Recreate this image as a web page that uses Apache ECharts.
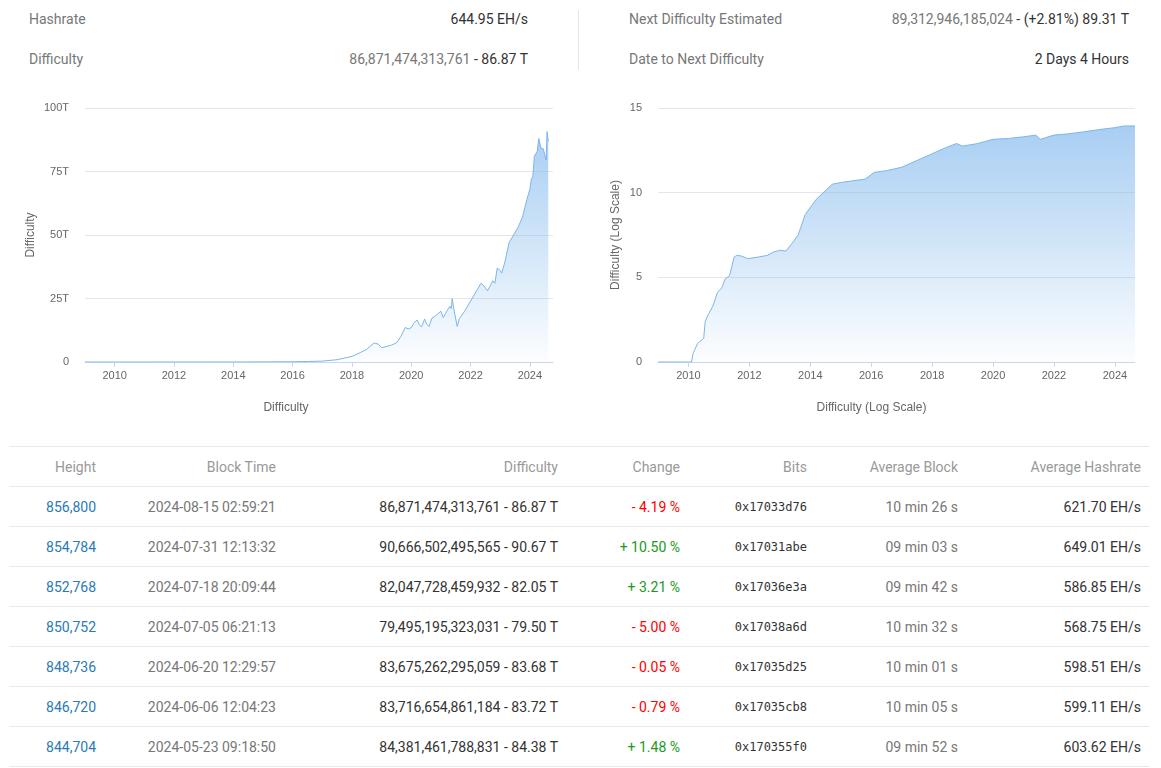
<!DOCTYPE html>
<html><head><meta charset="utf-8">
<script src="https://cdn.jsdelivr.net/npm/echarts@6/dist/echarts.min.js"></script>
<style>
body{margin:0;width:1161px;height:768px;font-family:Roboto,sans-serif;background:#fff;position:relative;overflow:hidden}
.s{position:absolute;font-size:14px;line-height:20px}
.l{color:#777}.v{color:#333;text-align:right}
#chart{position:absolute;left:0;top:2px;width:1161px;height:440px}
table{position:absolute;left:9px;top:446px;width:1140px;border-collapse:collapse;font-size:14px}
td,th{text-align:right;height:39px;border-top:1px solid #e8e8ee;padding:0;font-weight:normal}
th{color:#999}
tr:last-child td{border-bottom:1px solid #e8e8ee}
.h{color:#2a7ab8}.t{color:#777}.d{color:#333}.n{color:#f00}.p{color:#1a9a1a}
.b{font-family:"DejaVu Sans Mono",monospace;font-size:12px;color:#333}
</style></head><body>
<div class="s l" style="left:29px;top:9px">Hashrate</div>
<div class="s v" style="right:633px;top:9px">644.95 EH/s</div>
<div class="s l" style="left:29px;top:49px">Difficulty</div>
<div class="s v" style="right:633px;top:49px"><span style="color:#777">86,871,474,313,761</span> - 86.87 T</div>
<div style="position:absolute;left:578px;top:10px;width:1px;height:60px;background:#e5e5e5"></div>
<div class="s l" style="left:629px;top:9px">Next Difficulty Estimated</div>
<div class="s v" style="right:32px;top:9px"><span style="color:#777">89,312,946,185,024</span> - (+2.81%) 89.31 T</div>
<div class="s l" style="left:629px;top:49px">Date to Next Difficulty</div>
<div class="s v" style="right:32px;top:49px">2 Days 4 Hours</div>
<div id="chart"></div>
<table id="tbl"></table>
<script>
const years=[2009.0,2010.0,2011.0,2012.0,2013.0,2014.0,2015.0,2016.0,2016.5,2017.0,2017.5,2018.0,2018.3,2018.5,2018.75,2018.9,2019.0,2019.3,2019.5,2019.65,2019.8,2019.9,2020.0,2020.1,2020.2,2020.28,2020.35,2020.45,2020.52,2020.6,2020.7,2020.8,2020.9,2021.0,2021.08,2021.15,2021.3,2021.35,2021.38,2021.45,2021.55,2021.62,2021.8,2022.0,2022.1,2022.2,2022.35,2022.45,2022.57,2022.75,2022.82,2022.9,2023.0,2023.05,2023.15,2023.3,2023.45,2023.6,2023.75,2023.9,2024.0,2024.05,2024.1,2024.15,2024.25,2024.3,2024.38,2024.45,2024.55,2024.58,2024.62];
const diffT=[0,0,0,0.002,0.004,0.01,0.05,0.1,0.2,0.35,0.9,2.2,3.8,5,7.5,7,5.6,6.5,7.5,10,13.6,13,13.5,15.5,16.5,14.5,13.9,16.9,15,14.0,17.3,18,19,20,17.5,19,22,21,25,20,14,17,20,24,26,28,31,30,28,32,31,37,36,35,39,47,50,53,57,64,68,72,73,81,83,88,84,84,79.5,90.7,86.9];
const logYears=[2009.0,2010.1,2010.15,2010.3,2010.5,2010.55,2010.65,2010.8,2010.95,2011.1,2011.2,2011.35,2011.5,2011.6,2011.75,2011.95,2012.3,2012.6,2012.8,2013.0,2013.2,2013.4,2013.6,2013.83,2014.19,2014.72,2015.0,2015.8,2016.1,2016.5,2017.0,2017.5,2018.0,2018.5,2018.8,2019.0,2019.5,2020.0,2020.5,2021.0,2021.4,2021.55,2022.0,2022.5,2023.0,2023.5,2024.0,2024.3,2024.66];
const logDiff=[0,0,0.5,1.1,1.4,2.4,2.8,3.3,4.1,4.4,4.9,5.1,6.2,6.3,6.25,6.1,6.2,6.3,6.5,6.6,6.55,7.0,7.5,8.7,9.6,10.5,10.6,10.8,11.2,11.3,11.5,11.9,12.3,12.7,12.9,12.75,12.9,13.15,13.2,13.3,13.4,13.15,13.4,13.48,13.6,13.73,13.84,13.94,13.94];
const heights=['856,800','854,784','852,768','850,752','848,736','846,720','844,704'];
const times=['2024-08-15 02:59:21','2024-07-31 12:13:32','2024-07-18 20:09:44','2024-07-05 06:21:13','2024-06-20 12:29:57','2024-06-06 12:04:23','2024-05-23 09:18:50'];
const diffs=['86,871,474,313,761 - 86.87 T','90,666,502,495,565 - 90.67 T','82,047,728,459,932 - 82.05 T','79,495,195,323,031 - 79.50 T','83,675,262,295,059 - 83.68 T','83,716,654,861,184 - 83.72 T','84,381,461,788,831 - 84.38 T'];
const changes=['- 4.19 %','+ 10.50 %','+ 3.21 %','- 5.00 %','- 0.05 %','- 0.79 %','+ 1.48 %'];
const bits=['0x17033d76','0x17031abe','0x17036e3a','0x17038a6d','0x17035d25','0x17035cb8','0x170355f0'];
const avgBlock=['10 min 26 s','09 min 03 s','09 min 42 s','10 min 32 s','10 min 01 s','10 min 05 s','09 min 52 s'];
const avgHash=['621.70 EH/s','649.01 EH/s','586.85 EH/s','568.75 EH/s','598.51 EH/s','599.11 EH/s','603.62 EH/s'];

let html='<tr><th style="width:87px">Height</th><th style="width:180px">Block Time</th><th style="width:282px">Difficulty</th><th style="width:122px">Change</th><th style="width:127px">Bits</th><th style="width:151px">Average Block</th><th style="padding-right:8px">Average Hashrate</th></tr>';
for(let i=0;i<heights.length;i++){
  html+=`<tr><td class="h">${heights[i]}</td><td class="t">${times[i]}</td><td class="d">${diffs[i]}</td><td class="${changes[i][0]=='-'?'n':'p'}">${changes[i]}</td><td class="b">${bits[i]}</td><td class="t">${avgBlock[i]}</td><td class="d" style="padding-right:8px">${avgHash[i]}</td></tr>`;
}
document.getElementById('tbl').innerHTML=html;

const grad={type:'linear',x:0,y:0,x2:0,y2:1,colorStops:[{offset:0,color:'rgba(124,181,236,0.95)'},{offset:1,color:'rgba(124,181,236,0.03)'}]};
const ticks=[2010,2012,2014,2016,2018,2020,2022,2024];
const xa=(gi,max,name,pad)=>({type:'value',gridIndex:gi,min:2009,max:max,interval:1,splitLine:{show:false},
  axisLine:{lineStyle:{color:'#ccd6eb'}},axisTick:{lineStyle:{color:'#ccd6eb'},customValues:ticks},
  axisLabel:{color:'#666',fontSize:11,customValues:ticks,formatter:v=>v},
  name:name,nameLocation:'middle',nameGap:40,nameTextStyle:{color:'#666',fontSize:12,padding:[0,pad,0,0]}});
const ya=(gi,max,interval,fmt,name,gap)=>({type:'value',gridIndex:gi,min:0,max:max,interval:interval,
  axisLine:{show:false},axisTick:{show:false},splitLine:{lineStyle:{color:'#e6e6e6'}},
  axisLabel:{color:'#666',fontSize:11,formatter:fmt,margin:16},
  name:name,nameLocation:'middle',nameGap:gap,nameTextStyle:{color:'#666',fontSize:12}});
const chart=echarts.init(document.getElementById('chart'));
chart.setOption({animation:false,
  grid:[{left:85,top:106,width:468,height:254},{left:658,top:106,width:477,height:254}],
  xAxis:[xa(0,2024.78,'Difficulty',66),xa(1,2024.66,'Difficulty (Log Scale)',50)],
  yAxis:[ya(0,100,25,v=>v?v+'T':'0','Difficulty',48),ya(1,15,5,v=>v,'Difficulty (Log Scale)',36)],
  series:[
    {type:'line',xAxisIndex:0,yAxisIndex:0,data:years.map((y,i)=>[y,diffT[i]]),showSymbol:false,lineStyle:{color:'#7cb5ec',width:1},areaStyle:{color:grad}},
    {type:'line',xAxisIndex:1,yAxisIndex:1,data:logYears.map((y,i)=>[y,logDiff[i]]),showSymbol:false,lineStyle:{color:'#7cb5ec',width:1},areaStyle:{color:grad}}
  ]});
</script></body></html>
